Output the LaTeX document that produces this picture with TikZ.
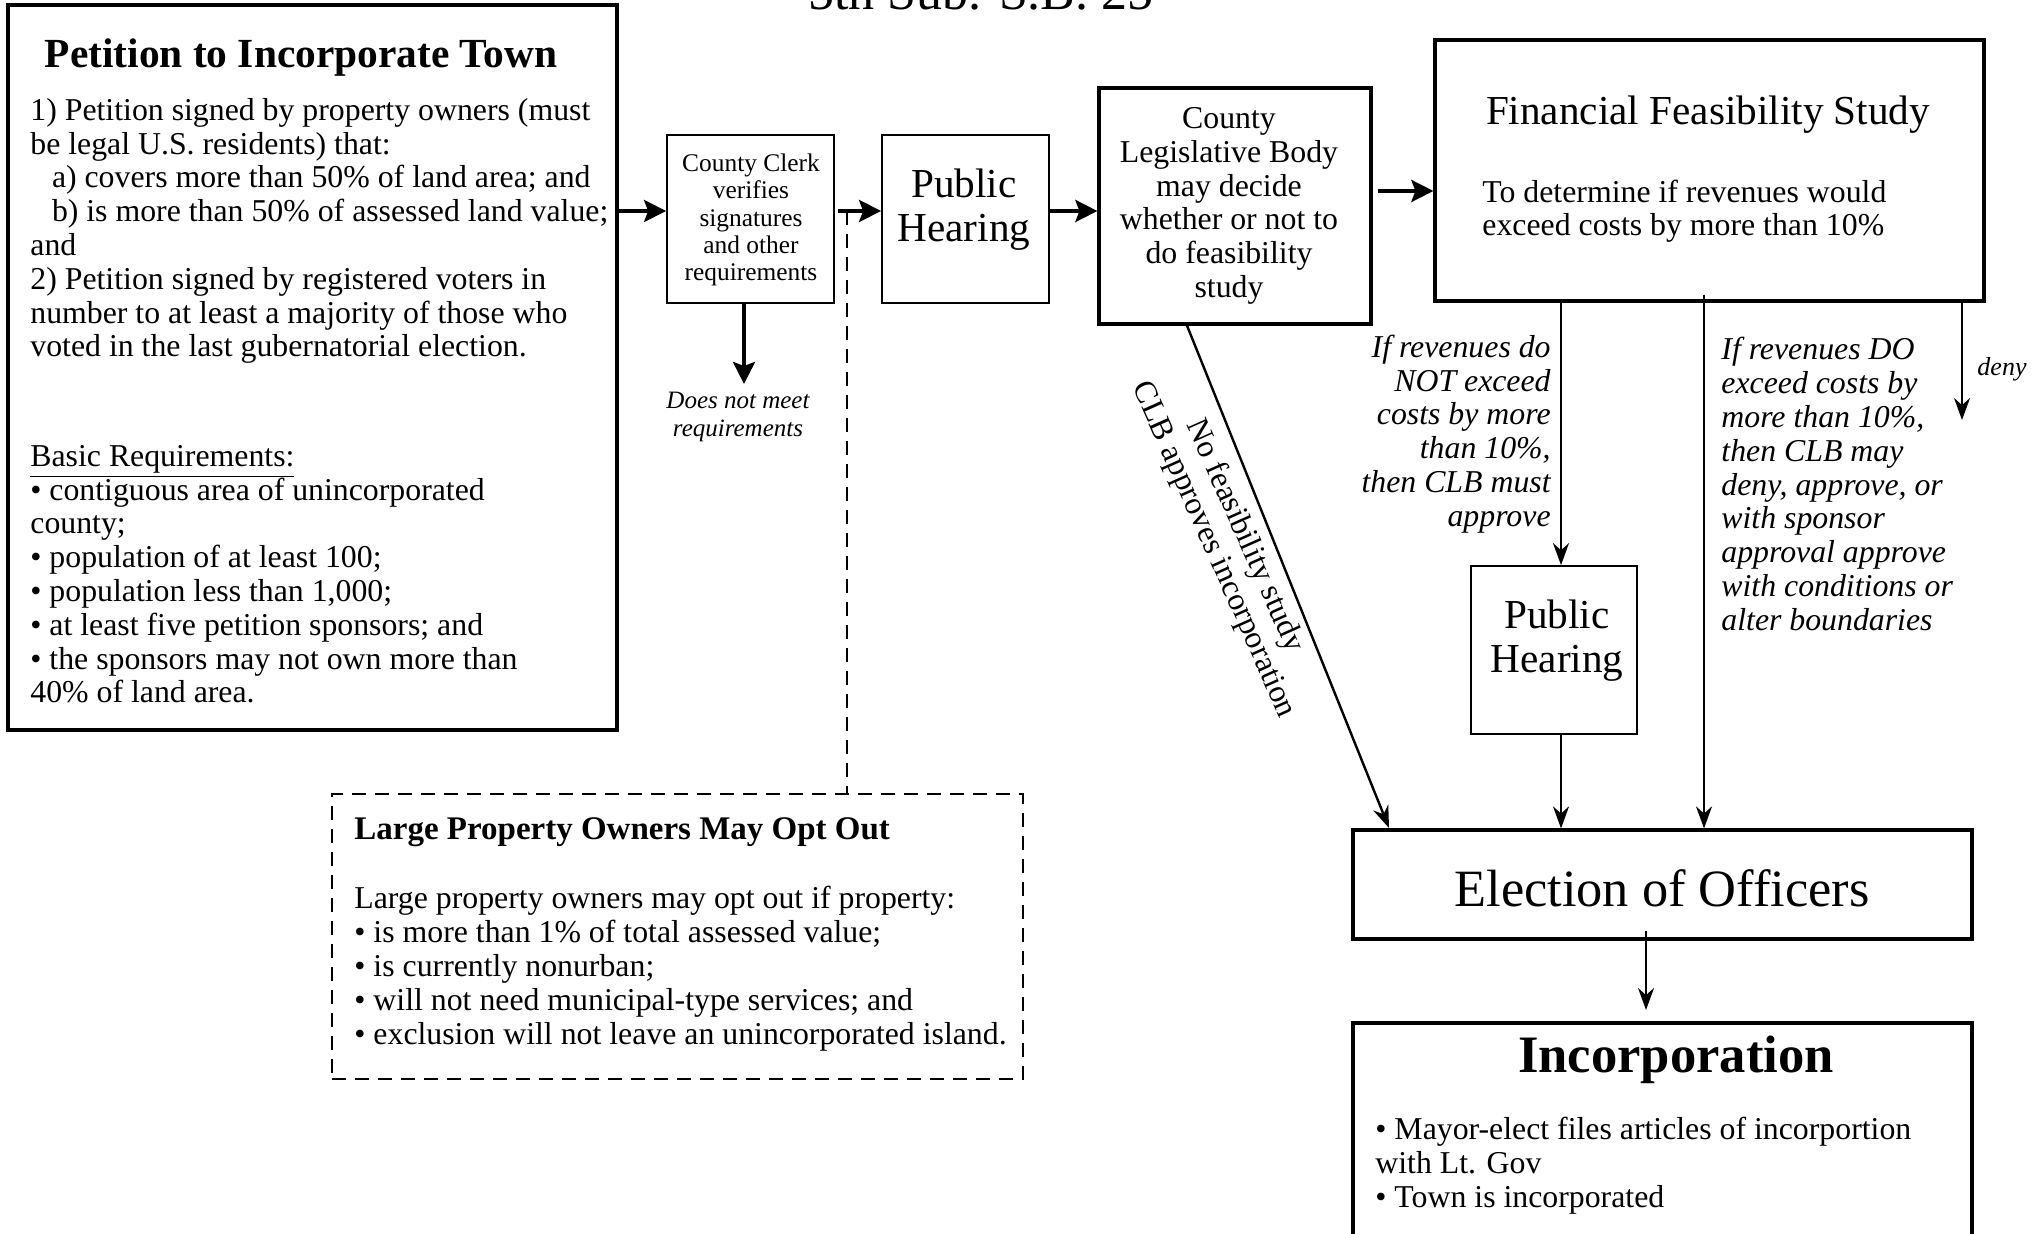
\documentclass[tikz,border=0pt]{standalone}
\usepackage{fontspec}
\setmainfont{Liberation Serif}
\usetikzlibrary{arrows.meta,fit,calc}
\begin{document}
\begin{tikzpicture}[x=0.5pt,y=-0.5pt,
  thickbox/.style={draw, line width=1.6pt, inner sep=0pt},
  thinbox/.style={draw, line width=0.9pt, inner sep=0pt},
  dashbox/.style={draw, line width=0.9pt, dash pattern=on 7pt off 4.5pt, inner sep=0pt},
  dashln/.style={line width=0.9pt, dash pattern=on 7pt off 4.5pt},
  arr/.style={line width=1.9pt, -{Stealth[length=11pt,width=11pt,inset=2pt]}},
  sarr/.style={line width=1.2pt, -{Stealth[length=11pt,width=8pt]}},
  body/.style={font=\fontsize{15.9}{16.9}\selectfont, inner sep=0pt, align=left},
  ital/.style={font=\itshape\fontsize{15.9}{16.9}\selectfont, inner sep=0pt},
  big/.style={font=\fontsize{20.6}{22}\selectfont, inner sep=0pt, align=center}
]
\useasboundingbox (0,0) rectangle (2040,1234);
\fill[white] (0,0) rectangle (2040,1234);

% top title (cut off)
\node[font=\fontsize{26}{30}\selectfont, anchor=base, inner sep=0pt] (sbtitle) at (981,10) {5th Sub. S.B. 25};

% Petition
\node[thickbox, fit={(8,5)(617,730)}] (pet) {};
\node[font=\bfseries\fontsize{20.7}{24}\selectfont, anchor=base, inner sep=0pt] (pettitle) at (301,68) {Petition to Incorporate Town};
\node[body, anchor=base west] (petreq) at (30,357) {1) Petition signed by property owners (must\\be legal U.S. residents) that:\\\hspace*{10.8pt}a) covers more than 50\% of land area; and\\\hspace*{10.8pt}b) is more than 50\% of assessed land value;\\and\\2) Petition signed by registered voters in\\number to at least a majority of those who\\voted in the last gubernatorial election.};
\node[body, anchor=base west] (petbasic) at (30,703) {\underline{Basic Requirements:}\\• contiguous area of unincorporated\\county;\\• population of at least 100;\\• population less than 1,000;\\• at least five petition sponsors; and\\• the sponsors may not own more than\\40\% of land area.};

% County clerk
\node[thinbox, fit={(667,135)(834,303)}] (clerk) {};
\node[font=\fontsize{12.7}{13.7}\selectfont, align=center, inner sep=0pt] (clerktext) at (751,220) {County Clerk\\verifies\\signatures\\and other\\requirements};

% Public hearing 1
\node[thinbox, fit={(882,135)(1049,303)}] (ph1) {};
\node[big] (ph1text) at (964,210) {Public\\Hearing};

% CLB
\node[thickbox, fit={(1099,88)(1371,324)}] (clb) {};
\node[body, align=center] (clbtext) at (1229,206) {County\\Legislative Body\\may decide\\whether or not to\\do feasibility\\study};

% FFS
\node[thickbox, fit={(1435,40)(1984,301)}] (ffs) {};
\node[big] (ffstitle) at (1708,115) {Financial Feasibility Study};
\node[body, anchor=base west] (ffsbody) at (1482,236) {To determine if revenues would\\exceed costs by more than 10\%};

% Public hearing 2
\node[thinbox, fit={(1471,566)(1637,734)}] (ph2) {};
\node[big] (ph2text) at (1557,641) {Public\\Hearing};

% Election
\node[thickbox, fit={(1353,830)(1972,939)}] (elec) {};
\node[font=\fontsize{26.2}{30}\selectfont, inner sep=0pt] (electext) at (1662,888) {Election of Officers};

% Incorporation
\node[thickbox, fit={(1353,1023)(1972,1262)}] (inc) {};
\node[font=\bfseries\fontsize{26.3}{30}\selectfont, inner sep=0pt] (inctitle) at (1676,1060) {Incorporation};
\node[body, anchor=base west] (incbody) at (1375,1207) {• Mayor-elect files articles of incorportion\\with Lt. Gov\\• Town is incorporated};

% Opt out box
\node[dashbox, fit={(332,794)(1023,1079)}] (opt) {};
\node[font=\bfseries\fontsize{16.5}{19}\selectfont, anchor=base west, inner sep=0pt] (opttitle) at (354,840) {Large Property Owners May Opt Out};
\node[body, anchor=base west] (optbody) at (354,1044) {Large property owners may opt out if property:\\• is more than 1\% of total assessed value;\\• is currently nonurban;\\• will not need municipal-type services; and\\• exclusion will not leave an unincorporated island.};

% connectors
\coordinate (rowA) at (0,211);
\coordinate (rowB) at (0,191);
\draw[arr] (pet.east |- rowA) -- (clerk.west |- rowA);
\coordinate (fail) at (744,384);
\draw[arr] (clerk.south -| fail) -- (fail);
\node[font=\itshape\fontsize{12.5}{13.7}\selectfont, align=center, inner sep=0pt] (failtext) at (738,417) {Does not meet\\requirements};
\draw[arr] ($(clerk.east |- rowA)+(3,0)$) -- (ph1.west |- rowA);
\coordinate (junc) at (847,211);
\draw[dashln] (junc) -- (opt.north -| junc);
\draw[arr] (ph1.east |- rowA) -- (clb.west |- rowA);
\draw[arr] ($(clb.east |- rowB)+(5,0)$) -- (ffs.west |- rowB);

\coordinate (colA) at (1561,0);
\coordinate (colB) at (1704,0);
\coordinate (colC) at (1962,0);
\draw[sarr] (ffs.south -| colA) -- (ph2.north -| colA);
\draw[sarr] ($(ffs.south -| colB)+(0,-8)$) -- (elec.north -| colB);
\coordinate (denyend) at (1962,420);
\draw[sarr] (ffs.south -| colC) -- (denyend);
\node[font=\itshape\fontsize{13}{15}\selectfont, inner sep=0pt] (denytext) at (2002,369) {deny};
\draw[sarr] (ph2.south -| colA) -- (elec.north -| colA);

\node[ital, align=right, anchor=east] (notext) at (1551,434) {If revenues do\\NOT exceed\\costs by more\\than 10\%,\\then CLB must\\approve};
\node[ital, align=left, anchor=west] (dotext) at (1721,484) {If revenues DO\\exceed costs by\\more than 10\%,\\then CLB may\\deny, approve, or\\with sponsor\\approval approve\\with conditions or\\alter boundaries};

\coordinate (diagS) at (1187,0);
\coordinate (diagE) at (1389,828);
\draw[sarr] (clb.south -| diagS) -- (diagE);
\node[font=\fontsize{15.9}{16.9}\selectfont, align=center, rotate=-66, inner sep=0pt] (nofs) at (1229,543) {No feasibility study\\CLB approves incorporation};

\coordinate (incarr) at (1646,1010);
\draw[sarr] ($(elec.south -| incarr)+(0,-10)$) -- (incarr);
\end{tikzpicture}
\end{document}
